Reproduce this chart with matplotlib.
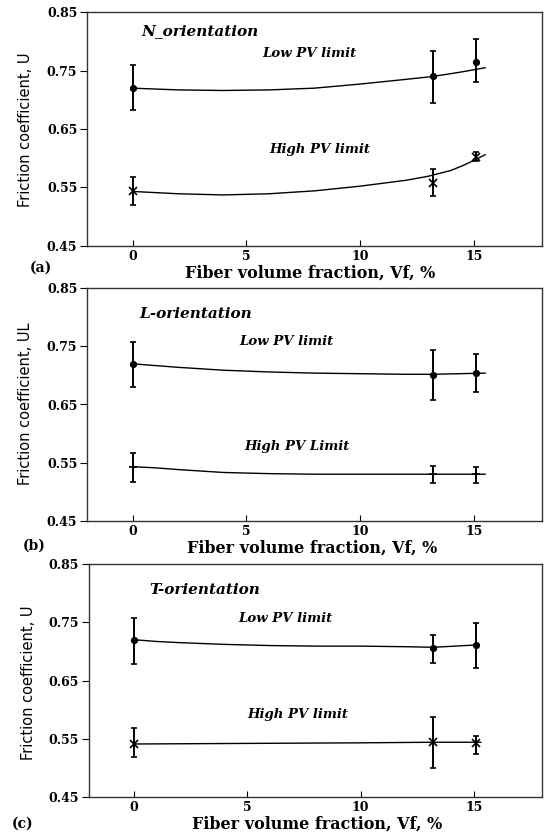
import numpy as np
from matplotlib import pyplot as plt

# measured points (x = fiber volume fraction, %)
vf = [0, 13.2, 15.1]

# (a) N-orientation
a_low = [0.720, 0.740, 0.765]
a_low_lo = [0.682, 0.694, 0.731]
a_low_hi = [0.759, 0.784, 0.804]
a_high = [0.543, 0.557, 0.602]
a_high_lo = [0.520, 0.535, 0.595]
a_high_hi = [0.567, 0.581, 0.610]
a_low_cx = [0, 2, 4, 6, 8, 10, 12, 13.2, 14.5, 15.5]
a_low_cy = [0.720, 0.717, 0.716, 0.717, 0.720, 0.727, 0.735, 0.740, 0.748, 0.755]
a_high_cx = [0, 2, 4, 6, 8, 10, 12, 13, 14, 14.5, 15, 15.5]
a_high_cy = [0.543, 0.539, 0.537, 0.539, 0.544, 0.552, 0.562, 0.569, 0.579, 0.587, 0.596, 0.606]

# (b) L-orientation
b_low = [0.719, 0.701, 0.704]
b_low_lo = [0.680, 0.658, 0.672]
b_low_hi = [0.758, 0.744, 0.737]
b_high = [0.542, 0.530, 0.530]
b_high_lo = [0.517, 0.515, 0.515]
b_high_hi = [0.567, 0.545, 0.542]
b_low_cx = [0, 1, 2, 4, 6, 8, 10, 12, 13.2, 15.5]
b_low_cy = [0.720, 0.717, 0.714, 0.709, 0.706, 0.704, 0.703, 0.702, 0.702, 0.704]
b_high_cx = [0, 1, 2, 4, 6, 8, 10, 12, 15.5]
b_high_cy = [0.543, 0.541, 0.538, 0.533, 0.531, 0.530, 0.530, 0.530, 0.530]

# (c) T-orientation
c_low = [0.719, 0.706, 0.711]
c_low_lo = [0.679, 0.680, 0.672]
c_low_hi = [0.757, 0.728, 0.749]
c_high = [0.541, 0.544, 0.543]
c_high_lo = [0.518, 0.499, 0.523]
c_high_hi = [0.568, 0.587, 0.554]
c_low_cx = [0, 1, 2, 4, 6, 8, 10, 12, 13.2, 15.1]
c_low_cy = [0.720, 0.717, 0.715, 0.712, 0.710, 0.709, 0.709, 0.708, 0.707, 0.711]
c_high_cx = [0, 5, 10, 13.2, 15.3]
c_high_cy = [0.541, 0.542, 0.543, 0.544, 0.544]

yticks = [0.45, 0.55, 0.65, 0.75, 0.85]
ytick_labels = ['0.45', '0.55', '0.65', '0.75', '0.85']
xticks = [0, 5, 10, 15]

W, H = 544, 832
fig = plt.figure(figsize=(W / 100, H / 100), dpi=100)

serif_b = dict(family='DejaVu Serif', weight='bold')
note = dict(family='DejaVu Serif', weight='bold', style='italic')

panels = [
    dict(box=(87, 12.3, 542, 245.7), low=(a_low, a_low_lo, a_low_hi), high=(a_high, a_high_lo, a_high_hi),
         lc=(a_low_cx, a_low_cy), hc=(a_high_cx, a_high_cy), hm='x',
         title=('N_orientation', 0.4, 0.817), lowtxt=(5.7, 0.780, 'Low PV limit'),
         hightxt=(6.0, 0.615, 'High PV limit'), ylab='Friction coefficient, U',
         ylab_pos=(26, 130), tag=('(a)', 30, 272), xlab_pos=(310, 278)),
    dict(box=(87, 288.3, 542, 520.7), low=(b_low, b_low_lo, b_low_hi), high=(b_high, b_high_lo, b_high_hi),
         lc=(b_low_cx, b_low_cy), hc=(b_high_cx, b_high_cy), hm='+',
         title=('L-orientation', 0.3, 0.805), lowtxt=(4.7, 0.758, 'Low PV limit'),
         hightxt=(4.9, 0.578, 'High PV Limit'), ylab='Friction coefficient, UL',
         ylab_pos=(26, 404), tag=('(b)', 23, 550), xlab_pos=(312, 553)),
    dict(box=(88.5, 564, 542, 797), low=(c_low, c_low_lo, c_low_hi), high=(c_high, c_high_lo, c_high_hi),
         lc=(c_low_cx, c_low_cy), hc=(c_high_cx, c_high_cy), hm='x',
         title=('T-orientation', 0.7, 0.805), lowtxt=(4.6, 0.757, 'Low PV limit'),
         hightxt=(5.0, 0.592, 'High PV limit'), ylab='Friction coefficient, U',
         ylab_pos=(29, 683), tag=('(c)', 12, 828), xlab_pos=(317, 829)),
]

for p in panels:
    x0, y0, x1, y1 = p['box']
    ax = fig.add_axes([x0 / W, 1 - y1 / H, (x1 - x0) / W, (y1 - y0) / H])
    ax.set_xlim(-2, 18)
    ax.set_ylim(0.45, 0.85)

    for (vals, lo, hi), m, ms in [(p['low'], 'o', 4), (p['high'], p['hm'], 6)]:
        v = np.array(vals)
        err = [v - np.array(lo), np.array(hi) - v]
        ax.errorbar(vf, v, yerr=err, fmt=m, color='black', ms=ms, mew=1.2,
                    elinewidth=1.4, capsize=2, capthick=1.2)
    ax.plot(*p['lc'], color='black', lw=1.0)
    ax.plot(*p['hc'], color='black', lw=1.0)

    t, tx, ty = p['title']
    ax.text(tx, ty, t, fontsize=11, va='center', ha='left', **note)
    tx, ty, t = p['lowtxt']
    ax.text(tx, ty, t, fontsize=9.5, va='center', ha='left', **note)
    tx, ty, t = p['hightxt']
    ax.text(tx, ty, t, fontsize=9.5, va='center', ha='left', **note)

    ax.set_yticks(yticks)
    ax.set_yticklabels(ytick_labels, fontsize=9, **serif_b)
    ax.set_xticks(xticks)
    ax.set_xticklabels([str(t) for t in xticks], fontsize=9, **serif_b)
    ax.tick_params(axis='y', direction='out', length=5, width=0.8, pad=2)
    ax.tick_params(axis='x', direction='in', length=4, width=0.8, pad=3)
    for s in ax.spines.values():
        s.set_linewidth(1.0)
        s.set_color('#333333')

    lx, ly = p['ylab_pos']
    fig.text(lx / W, 1 - ly / H, p['ylab'], rotation=90, fontsize=10.5,
             family='DejaVu Sans', ha='center', va='center')
    t, tx, ty = p['tag']
    fig.text(tx / W, 1 - ty / H, t, fontsize=10, ha='left', va='baseline', **serif_b)
    lx, ly = p['xlab_pos']
    fig.text(lx / W, 1 - ly / H, 'Fiber volume fraction, Vf, %', fontsize=11.5,
             ha='center', va='baseline', **serif_b)

fig.savefig('out.png', dpi=100)
